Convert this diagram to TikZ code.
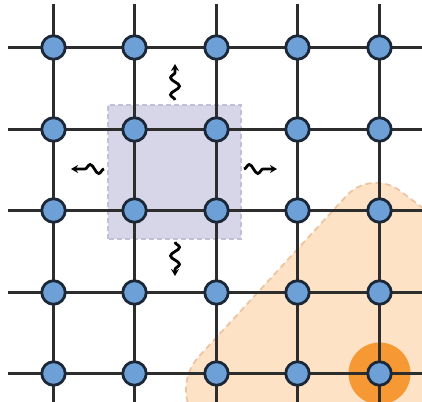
\documentclass[tikz,border=0pt]{standalone}
\usetikzlibrary{decorations.pathmorphing,arrows.meta}
\pgfdeclarelayer{regions}
\pgfdeclarelayer{lines}
\pgfsetlayers{regions,lines,main}
\definecolor{siteblue}{RGB}{110,160,216}
\definecolor{siteedge}{RGB}{28,40,55}
\definecolor{gridline}{RGB}{45,45,45}
\definecolor{patch}{RGB}{214,214,232}
\definecolor{patchedge}{RGB}{192,192,214}
\definecolor{region}{RGB}{253,226,198}
\definecolor{regionedge}{RGB}{236,196,162}
\definecolor{hot}{RGB}{246,152,52}
\begin{document}
\begin{tikzpicture}[x=1bp,y=1bp,
  site/.style={circle,draw=siteedge,fill=siteblue,line width=2.8bp,minimum size=23.5bp,inner sep=0pt},
  bond/.style={draw=gridline,line width=3bp},
  wiggle/.style={line width=2.8bp,-{Stealth[length=7bp,width=8bp]},decorate,
    decoration={snake,amplitude=4.5bp,segment length=17bp,post length=6bp}}]
\useasboundingbox (0,0) rectangle (422,402);
% sites
\foreach \i/\x in {1/53.5,2/134.5,3/216.5,4/297.5,5/379.5}{
  \foreach \j/\y in {1/354.5,2/272.5,3/191.5,4/109.5,5/28.5}{
    \node[site] (n\i\j) at (\x,\y) {};
  }
}
% free ends of the bonds
\foreach \j/\y in {1/354.5,2/272.5,3/191.5,4/109.5,5/28.5}{
  \coordinate (L\j) at (8,\y);
  \coordinate (R\j) at (422,\y);
}
\foreach \i/\x in {1/53.5,2/134.5,3/216.5,4/297.5,5/379.5}{
  \coordinate (T\i) at (\x,398);
  \coordinate (B\i) at (\x,0);
}
% regions
\begin{pgfonlayer}{regions}
  \filldraw[fill=region,draw=regionedge,dash pattern=on 6bp off 4bp,line width=1.8bp]
    (540,-40) -- (236,-38) arc[start angle=270,end angle=137.5,radius=50]
    -- (346.5,206.2) arc[start angle=137.5,end angle=53,radius=40]
    -- (540,105.6) -- cycle;
  \fill[hot] (n55.center) circle[radius=31];
  \filldraw[fill=patch,draw=patchedge,dash pattern=on 5bp off 3bp,line width=1.6bp]
    (108,163) rectangle (241,297);
\end{pgfonlayer}
% bonds
\begin{pgfonlayer}{lines}
  \foreach \j in {1,...,5}{
    \draw[bond] (L\j) -- (n1\j.center);
    \draw[bond] (n5\j.center) -- (R\j);
    \draw[bond] (T\j) -- (n\j1.center);
    \draw[bond] (n\j5.center) -- (B\j);
  }
  \foreach \a/\b in {1/2,2/3,3/4,4/5}{
    \foreach \k in {1,...,5}{
      \draw[bond] (n\a\k.center) -- (n\b\k.center);
      \draw[bond] (n\k\a.center) -- (n\k\b.center);
    }
  }
\end{pgfonlayer}
% emission arrows
\coordinate (wt0) at (175,302); \coordinate (wt1) at (175,338);
\coordinate (wb0) at (175,160); \coordinate (wb1) at (175,126);
\coordinate (wl0) at (104,233); \coordinate (wl1) at (71,233);
\coordinate (wr0) at (244,233); \coordinate (wr1) at (277,233);
\draw[wiggle] (wt0) -- (wt1);
\draw[wiggle] (wb0) -- (wb1);
\draw[wiggle] (wl0) -- (wl1);
\draw[wiggle] (wr0) -- (wr1);
\end{tikzpicture}
\end{document}
